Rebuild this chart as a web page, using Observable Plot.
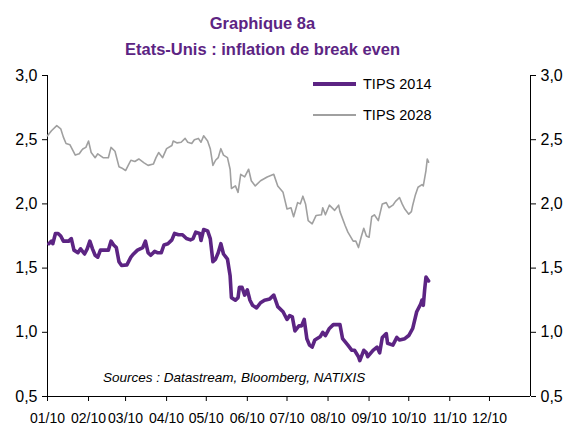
<!DOCTYPE html>
<html>
<head>
<meta charset="utf-8">
<script src="https://cdn.jsdelivr.net/npm/d3@7"></script>
<script src="https://cdn.jsdelivr.net/npm/@observablehq/plot@0.6"></script>
<style>
  html, body { margin: 0; padding: 0; background: #fff; }
  #wrap { position: relative; width: 573px; height: 425px; font-family: "Liberation Sans", Arial, sans-serif; }
  #title { position: absolute; left: 0; top: 0; width: 525px; height: 62px; text-align: center; color: #5c2483; font-weight: bold; font-size: 16.5px; }
  #title .l1 { position: absolute; left: 0; width: 100%; top: 14px; }
  #title .l2 { position: absolute; left: 0; width: 100%; top: 40px; }
  #chart { position: absolute; left: 0; top: 62px; }
  .leg { position: absolute; font-size: 14.5px; color: #000; }
  .legline { position: absolute; }
  #src { position: absolute; left: 103px; top: 370px; font-size: 13.5px; font-style: italic; color: #000; }
</style>
</head>
<body>
<div id="wrap">
  <div id="title"><div class="l1">Graphique 8a</div><div class="l2">Etats-Unis : inflation de break even</div></div>
  <div id="chart"></div>
  <div class="legline" style="left:313px; top:82px; width:43px; height:4px; background:#5c2483;"></div>
  <div class="leg" style="left:363px; top:76px;">TIPS 2014</div>
  <div class="legline" style="left:313px; top:114px; width:43px; height:1.5px; background:#a0a0a0;"></div>
  <div class="leg" style="left:363px; top:107px;">TIPS 2028</div>
  <div id="src">Sources : Datastream, Bloomberg, NATIXIS</div>
</div>
<script>
const dates2014 = ["2010-01-02","2010-01-04","2010-01-05","2010-01-07","2010-01-09","2010-01-11","2010-01-13","2010-01-17","2010-01-19","2010-01-21","2010-01-24","2010-01-26","2010-01-29","2010-01-31","2010-02-02","2010-02-04","2010-02-06","2010-02-08","2010-02-10","2010-02-13","2010-02-16","2010-02-18","2010-02-20","2010-02-22","2010-02-24","2010-02-26","2010-03-02","2010-03-05","2010-03-07","2010-03-10","2010-03-14","2010-03-16","2010-03-18","2010-03-20","2010-03-23","2010-03-25","2010-03-28","2010-03-30","2010-04-02","2010-04-05","2010-04-07","2010-04-10","2010-04-13","2010-04-16","2010-04-19","2010-04-21","2010-04-23","2010-04-26","2010-04-27","2010-04-29","2010-05-02","2010-05-04","2010-05-06","2010-05-08","2010-05-10","2010-05-12","2010-05-14","2010-05-17","2010-05-19","2010-05-20","2010-05-23","2010-05-25","2010-05-26","2010-05-28","2010-05-30","2010-06-01","2010-06-03","2010-06-05","2010-06-08","2010-06-11","2010-06-14","2010-06-18","2010-06-21","2010-06-24","2010-06-28","2010-07-01","2010-07-03","2010-07-05","2010-07-07","2010-07-10","2010-07-12","2010-07-14","2010-07-16","2010-07-18","2010-07-20","2010-07-22","2010-07-26","2010-07-28","2010-07-30","2010-08-02","2010-08-05","2010-08-10","2010-08-12","2010-08-16","2010-08-19","2010-08-21","2010-08-24","2010-08-25","2010-08-28","2010-08-30","2010-08-31","2010-09-04","2010-09-07","2010-09-09","2010-09-11","2010-09-14","2010-09-15","2010-09-19","2010-09-22","2010-09-24","2010-09-28","2010-10-01","2010-10-04","2010-10-07","2010-10-10","2010-10-11","2010-10-12","2010-10-13","2010-10-14","2010-10-16"];
const tips2014 = [1.69,1.71,1.69,1.77,1.77,1.75,1.71,1.71,1.73,1.64,1.62,1.65,1.61,1.65,1.71,1.65,1.60,1.585,1.64,1.64,1.64,1.71,1.68,1.66,1.55,1.52,1.525,1.585,1.61,1.64,1.66,1.71,1.62,1.60,1.63,1.62,1.62,1.68,1.69,1.72,1.77,1.76,1.76,1.73,1.72,1.73,1.78,1.77,1.715,1.80,1.79,1.73,1.55,1.57,1.62,1.69,1.61,1.57,1.44,1.27,1.25,1.27,1.35,1.35,1.29,1.33,1.25,1.21,1.19,1.23,1.25,1.26,1.29,1.20,1.16,1.10,1.13,1.12,1.01,1.05,1.05,1.10,0.95,0.90,0.885,0.94,0.965,1.00,0.975,1.03,1.06,1.06,0.95,0.90,0.86,0.86,0.81,0.78,0.86,0.84,0.81,0.86,0.885,0.84,0.96,0.99,0.915,0.90,0.96,0.94,0.95,0.975,1.03,1.16,1.22,1.25,1.21,1.33,1.43,1.40];
const dates2028 = ["2010-01-01","2010-01-04","2010-01-08","2010-01-11","2010-01-13","2010-01-15","2010-01-18","2010-01-22","2010-01-25","2010-01-27","2010-01-28","2010-01-30","2010-02-01","2010-02-03","2010-02-06","2010-02-08","2010-02-12","2010-02-16","2010-02-18","2010-02-21","2010-02-24","2010-02-26","2010-03-01","2010-03-03","2010-03-05","2010-03-08","2010-03-11","2010-03-15","2010-03-18","2010-03-22","2010-03-24","2010-03-26","2010-03-29","2010-04-01","2010-04-05","2010-04-06","2010-04-09","2010-04-12","2010-04-15","2010-04-17","2010-04-20","2010-04-22","2010-04-25","2010-04-27","2010-04-29","2010-05-02","2010-05-04","2010-05-06","2010-05-08","2010-05-10","2010-05-12","2010-05-14","2010-05-17","2010-05-19","2010-05-20","2010-05-23","2010-05-25","2010-05-27","2010-05-30","2010-06-02","2010-06-04","2010-06-07","2010-06-11","2010-06-16","2010-06-21","2010-06-24","2010-06-28","2010-07-01","2010-07-04","2010-07-06","2010-07-09","2010-07-11","2010-07-13","2010-07-15","2010-07-17","2010-07-20","2010-07-23","2010-07-27","2010-07-28","2010-07-30","2010-08-02","2010-08-06","2010-08-09","2010-08-10","2010-08-14","2010-08-16","2010-08-20","2010-08-22","2010-08-24","2010-08-26","2010-08-28","2010-08-30","2010-09-01","2010-09-03","2010-09-05","2010-09-08","2010-09-11","2010-09-14","2010-09-16","2010-09-19","2010-09-21","2010-09-24","2010-09-26","2010-09-28","2010-10-01","2010-10-03","2010-10-04","2010-10-06","2010-10-08","2010-10-11","2010-10-12","2010-10-14","2010-10-15","2010-10-16"];
const tips2028 = [2.53,2.57,2.61,2.585,2.52,2.47,2.46,2.38,2.39,2.42,2.43,2.44,2.49,2.40,2.36,2.39,2.36,2.36,2.44,2.41,2.29,2.28,2.26,2.30,2.34,2.33,2.35,2.32,2.30,2.31,2.36,2.40,2.36,2.43,2.455,2.49,2.475,2.48,2.51,2.48,2.47,2.50,2.51,2.48,2.53,2.49,2.43,2.30,2.34,2.36,2.43,2.38,2.36,2.27,2.12,2.14,2.09,2.23,2.21,2.27,2.18,2.14,2.18,2.21,2.23,2.14,2.09,1.96,1.97,1.90,2.01,2.00,2.06,2.00,1.87,1.845,1.91,1.915,1.97,1.915,1.99,1.95,1.99,1.94,1.83,1.78,1.71,1.71,1.66,1.74,1.81,1.75,1.74,1.90,1.915,1.87,2.00,2.01,1.97,1.99,2.02,2.05,2.00,1.96,1.92,1.94,1.99,2.07,2.13,2.15,2.14,2.26,2.35,2.325];
const monthTicks = ["2010-01-01","2010-02-01","2010-03-01","2010-04-01","2010-05-01","2010-06-01","2010-07-01","2010-08-01","2010-09-01","2010-10-01","2010-11-01","2010-12-01"];
const yTicks = [0.5, 1.0, 1.5, 2.0, 2.5, 3.0];
const xDomain = ["2010-01-01", "2011-01-01"];

const s2014 = dates2014.map((d, i) => ({date: new Date(d), value: tips2014[i]}));
const s2028 = dates2028.map((d, i) => ({date: new Date(d), value: tips2028[i]}));
const fmtY = d => d.toFixed(1).replace(".", ",");

const chart = Plot.plot({
  width: 573,
  height: 363,
  marginTop: 13,
  marginBottom: 29,
  marginLeft: 47,
  marginRight: 43,
  style: {fontFamily: "'Liberation Sans', Arial, sans-serif", color: "#000", background: "transparent"},
  x: {type: "utc", domain: xDomain.map(d => new Date(d))},
  y: {domain: [0.5, 3.0]},
  marks: [
    Plot.axisX({ticks: monthTicks.map(d => new Date(d)), tickFormat: d3.utcFormat("%m/%y"), tickSize: 5, tickPadding: 12, fontSize: 14, label: null}),
    Plot.axisY({anchor: "left", ticks: yTicks, tickFormat: fmtY, tickSize: 5, tickPadding: 5, fontSize: 16, label: null}),
    Plot.axisY({anchor: "right", ticks: yTicks, tickFormat: fmtY, tickSize: 5, tickPadding: 5, fontSize: 16, label: null}),
    Plot.ruleX(xDomain.map(d => new Date(d)), {stroke: "#000", strokeWidth: 1}),
    Plot.ruleY([0.5], {stroke: "#000", strokeWidth: 1}),
    Plot.line(s2028, {x: "date", y: "value", stroke: "#a0a0a0", strokeWidth: 1.6}),
    Plot.line(s2014, {x: "date", y: "value", stroke: "#5c2483", strokeWidth: 3.6})
  ]
});
document.getElementById("chart").appendChild(chart);
</script>
</body>
</html>
